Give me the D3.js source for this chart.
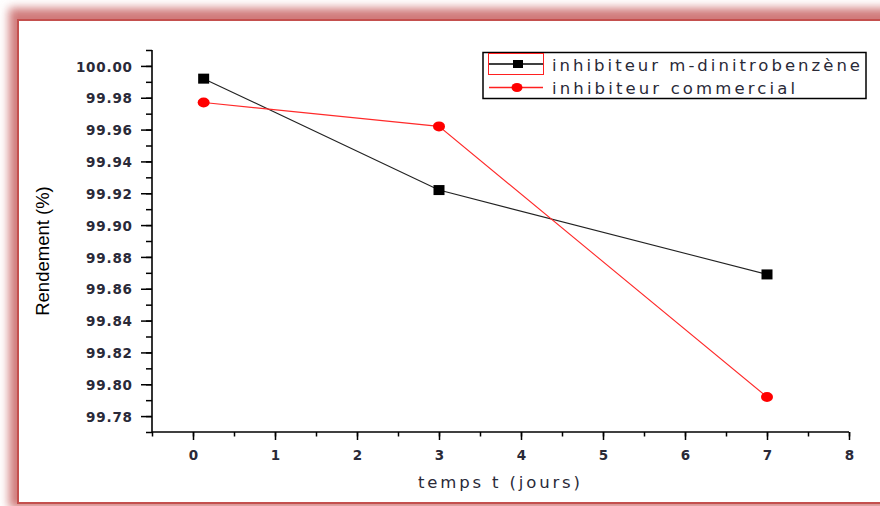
<!DOCTYPE html>
<html><head><meta charset="utf-8">
<script src="https://cdn.jsdelivr.net/npm/d3@7"></script>
<style>body{margin:0;background:#fff;overflow:hidden}svg{display:block}</style>
</head><body>
<script>
const days = [0.13, 3, 7];
const dinitro = [99.992, 99.922, 99.869];
const commercial = [99.977, 99.962, 99.792];
const seriesNames = ["inhibiteur m-dinitrobenzène", "inhibiteur commercial"];
const yTicks = [99.78, 99.80, 99.82, 99.84, 99.86, 99.88, 99.90, 99.92, 99.94, 99.96, 99.98, 100.00];
const xTicks = [0, 1, 2, 3, 4, 5, 6, 7, 8];
const xLabel = "temps t (jours)";
const yLabel = "Rendement (%)";

const W = 880, H = 506;
const svg = d3.select("body").append("svg").attr("width", W).attr("height", H);
const defs = svg.append("defs");
const f = defs.append("filter").attr("id","blur").attr("x","-10%").attr("y","-10%").attr("width","120%").attr("height","120%");
f.append("feGaussianBlur").attr("stdDeviation", 5);

// frame with shadow
svg.append("rect").attr("x",9).attr("y",8).attr("width",900).attr("height",500)
  .attr("fill","#d07a7a").attr("filter","url(#blur)");
svg.append("rect").attr("x",18).attr("y",20).attr("width",890).attr("height",483)
  .attr("fill","#fff").attr("stroke","#c4504e").attr("stroke-width",2);

const x = d3.scaleLinear().domain([-0.5, 8]).range([152, 849]);
const y = d3.scaleLinear().domain([99.77, 100.01]).range([432, 50]);

const txtCol = "#2a2a38";
const font = "'Liberation Sans', Arial, sans-serif";
const wide = "'DejaVu Sans', Verdana, sans-serif";

// Y axis
const yMinor = d3.range(0, 25).map(i => 99.77 + i * 0.01);
svg.append("g").attr("transform","translate(152,0)")
  .call(d3.axisLeft(y).tickValues(yMinor).tickSize(6).tickFormat(""))
  .call(g => g.select(".domain").remove())
  .call(g => g.selectAll("line").attr("stroke","#000").attr("stroke-width",1.5));
svg.append("g").attr("transform","translate(152,0)")
  .call(d3.axisLeft(y).tickValues(yTicks).tickSize(11).tickPadding(9).tickFormat(d3.format(".2f")))
  .call(g => g.select(".domain").remove())
  .call(g => g.selectAll("line").attr("stroke","#000").attr("stroke-width",1.5))
  .call(g => g.selectAll("text").attr("fill",txtCol).attr("font-family",wide)
     .attr("font-size",13.5).attr("font-weight","bold").attr("letter-spacing",0.8)
     .attr("dx",0.8).attr("dy","0.38em"));
svg.append("line").attr("x1",152).attr("x2",152).attr("y1",y(100.01)).attr("y2",y(99.77))
  .attr("stroke","#000").attr("stroke-width",1.6);

// X axis
const xMinor = d3.range(-0.5, 8.01, 0.5);
svg.append("g").attr("transform","translate(0,432)")
  .call(d3.axisBottom(x).tickValues(xMinor).tickSize(4.5).tickFormat(""))
  .call(g => g.select(".domain").remove())
  .call(g => g.selectAll("line").attr("stroke","#000").attr("stroke-width",1.5));
svg.append("g").attr("transform","translate(0,432)")
  .call(d3.axisBottom(x).tickValues(xTicks).tickSize(8).tickPadding(10).tickFormat(d3.format("d")))
  .call(g => g.select(".domain").remove())
  .call(g => g.selectAll("line").attr("stroke","#000").attr("stroke-width",1.5))
  .call(g => g.selectAll("text").attr("fill",txtCol).attr("font-family",wide)
     .attr("font-size",13.5).attr("font-weight","bold"));
svg.append("line").attr("x1",x(-0.5)).attr("x2",x(8)).attr("y1",432).attr("y2",432)
  .attr("stroke","#000").attr("stroke-width",1.6);

// axis titles
svg.append("text").attr("x",499).attr("y",488).attr("text-anchor","middle")
  .attr("font-family",wide).attr("font-size",16.5).attr("fill",txtCol)
  .attr("textLength",162).attr("lengthAdjust","spacing").text(xLabel);
svg.append("text").attr("transform","translate(49,251) rotate(-90)").attr("text-anchor","middle")
  .attr("font-family",font).attr("font-size",18.5).attr("fill","#000").text(yLabel);

// series
const line = d3.line().x(d => x(d[0])).y(d => y(d[1]));
const d1 = days.map((d,i) => [d, dinitro[i]]);
const d2 = days.map((d,i) => [d, commercial[i]]);
svg.append("path").datum(d1).attr("d", line).attr("fill","none").attr("stroke","#222").attr("stroke-width",1.1);
svg.append("path").datum(d2).attr("d", line).attr("fill","none").attr("stroke","#ff2a2a").attr("stroke-width",1.1);
svg.selectAll("rect.sq").data(d1).enter().append("rect").attr("class","sq")
  .attr("x", d => x(d[0]) - 5.5).attr("y", d => y(d[1]) - 5).attr("width",11).attr("height",10).attr("fill","#000");
svg.selectAll("ellipse.ci").data(d2).enter().append("ellipse").attr("class","ci")
  .attr("cx", d => x(d[0])).attr("cy", d => y(d[1])).attr("rx",6).attr("ry",5).attr("fill","#ff0000");

// legend
const lg = svg.append("g");
lg.append("rect").attr("x",483).attr("y",52.5).attr("width",383).attr("height",46)
  .attr("fill","#fff").attr("stroke","#000").attr("stroke-width",1.5);
lg.append("rect").attr("x",488.5).attr("y",53.5).attr("width",55).attr("height",21)
  .attr("fill","none").attr("stroke","#ff2020").attr("stroke-width",1);
lg.append("line").attr("x1",489).attr("x2",543).attr("y1",64).attr("y2",64).attr("stroke","#000").attr("stroke-width",1.3);
lg.append("rect").attr("x",513).attr("y",60).attr("width",10).attr("height",8).attr("fill","#000");
lg.append("line").attr("x1",489).attr("x2",543).attr("y1",87.5).attr("y2",87.5).attr("stroke","#ff2020").attr("stroke-width",1.3);
lg.append("ellipse").attr("cx",517).attr("cy",87.5).attr("rx",5.5).attr("ry",4.5).attr("fill","#ff0000");
lg.append("text").attr("x",552).attr("y",70.5).attr("font-family",wide).attr("font-size",16.5).attr("fill",txtCol)
  .attr("textLength",308).attr("lengthAdjust","spacing").text(seriesNames[0]);
lg.append("text").attr("x",552).attr("y",93.5).attr("font-family",wide).attr("font-size",16.5).attr("fill",txtCol)
  .attr("textLength",243).attr("lengthAdjust","spacing").text(seriesNames[1]);
</script>
</body></html>
